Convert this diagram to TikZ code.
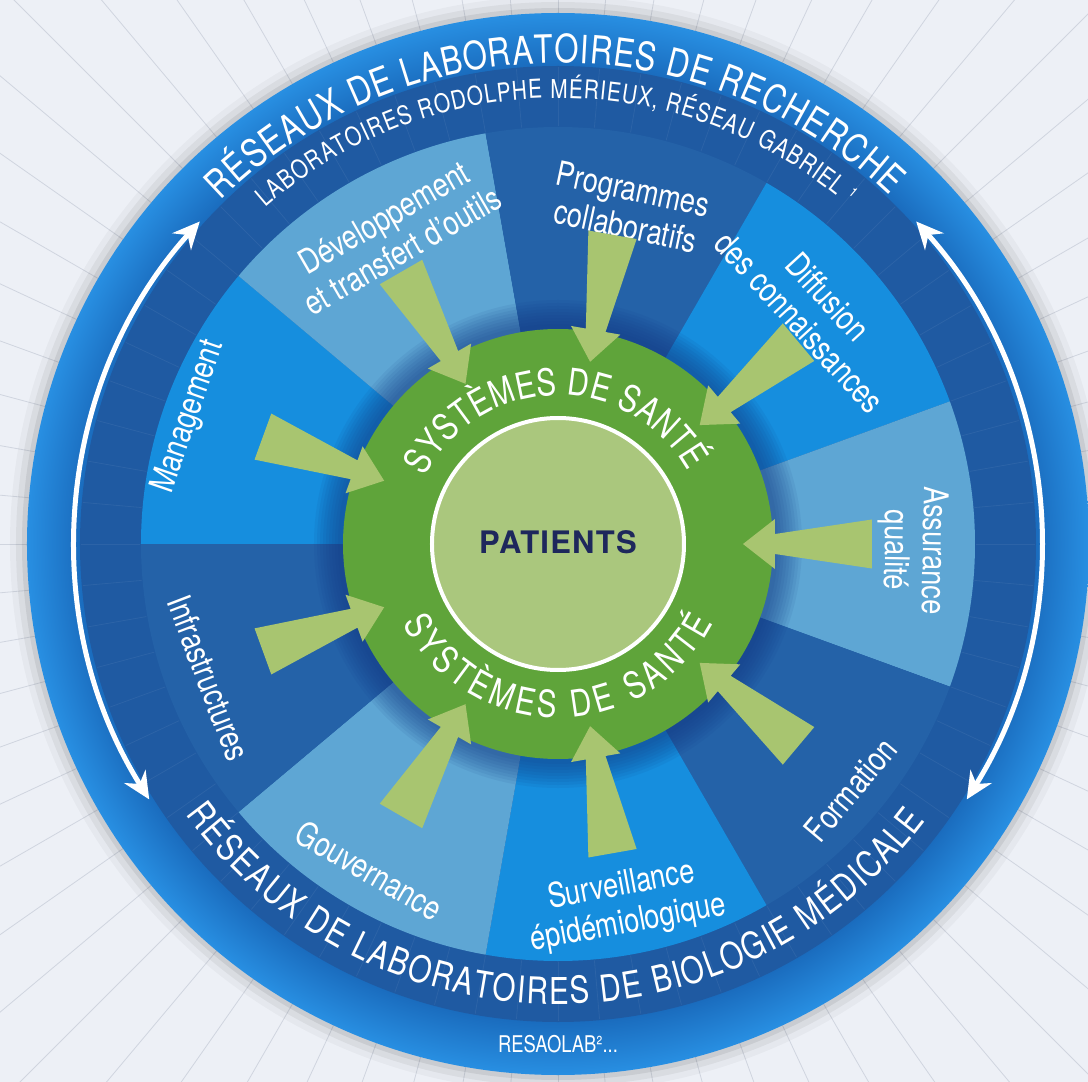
\documentclass[tikz,border=0pt]{standalone}
\usepackage{fontspec}
\setmainfont{TeX Gyre Heros}
\newfontfamily\condfont[FakeStretch=0.8]{TeX Gyre Heros}
\newfontfamily\patientfont[LetterSpace=4]{TeX Gyre Heros}
\usetikzlibrary{arrows.meta,decorations.text}
\definecolor{bgpaper}{RGB}{237,240,246}
\definecolor{rayline}{RGB}{208,213,223}
\definecolor{ringlight}{RGB}{40,143,226}
\definecolor{ringmid}{RGB}{26,108,190}
\definecolor{bandblue}{RGB}{31,90,162}
\definecolor{segbright}{RGB}{22,142,222}
\definecolor{segpale}{RGB}{94,166,212}
\definecolor{segdeep}{RGB}{36,98,168}
\definecolor{santegreen}{RGB}{95,164,58}
\definecolor{patientgreen}{RGB}{170,199,125}
\definecolor{wedgegreen}{RGB}{168,197,112}
\definecolor{patientnavy}{RGB}{30,40,92}
\definecolor{shadowblue}{RGB}{18,55,130}
\pgfdeclareradialshading{outerring}{\pgfpoint{0bp}{0bp}}{color(0bp)=(ringmid); color(22.5bp)=(ringmid); color(25bp)=(ringlight); color(50bp)=(ringlight)}
\begin{document}
\begin{tikzpicture}[x=1pt,y=1pt,
    seglabel/.style={text=white, align=center, inner sep=0pt, font=\condfont\fontsize{34}{38}\selectfont},
    arctext/.style={decorate, decoration={text along path, text color=white, text align=fit to path, text={#1}}},
    wedge/.style={fill=wedgegreen, rotate=#1},
    loop arrow/.style={white, line width=5pt, {Stealth[length=27pt,width=25pt]}-{Stealth[length=27pt,width=25pt]}}]
  \useasboundingbox[fill=bgpaper] (-558,-538) rectangle (530,544);
  \begin{scope}
    \clip (-558,-538) rectangle (530,544);
    \foreach \a in {0,5,...,355}
      \draw[rayline, line width=0.8pt] (\a:531) -- (\a:900);
  \end{scope}
  \foreach \r/\o in {548/0.03, 542/0.05, 536/0.07}
    \fill[black, opacity=\o] (0,0) circle (\r);

  \shade[shading=outerring] (0,0) circle (531);
  \fill[bandblue] (0,0) circle (478);
  \foreach \a in {0,5,...,355}
    \draw[white, opacity=0.06, line width=0.8pt] (\a:418) -- (\a:477);

  \foreach \s/\c in {180/segbright, 140/segpale, 100/segdeep, 60/segbright, 20/segpale,
                     -20/segdeep, -60/segbright, -100/segpale, -140/segdeep}
    \fill[\c] (0,0) -- (\s:417) arc[start angle=\s, end angle=\s-40, radius=417] -- cycle;

  \foreach \r in {244,241,...,218}
    \fill[shadowblue, opacity=0.08] (0,0) circle (\r);
  \fill[santegreen] (0,0) circle (215);
  \draw[white, line width=4pt, fill=patientgreen] (0,0) circle (126);
  \node[text=patientnavy, font=\patientfont\bfseries\fontsize{31}{31}\selectfont] (patients) at (0,2) {PATIENTS};

  \path[arctext={|\condfont\fontsize{37}{37}\selectfont|SYSTÈMES DE SANTÉ}]
    (153:149) arc[start angle=153, end angle=29, radius=149];
  \path[arctext={|\condfont\fontsize{37}{37}\selectfont|SYSTÈMES DE SANTÉ}]
    (207:174) arc[start angle=207, end angle=333, radius=174];

  \path[arctext={|\condfont\fontsize{39}{39}\selectfont|RÉSEAUX DE LABORATOIRES DE RECHERCHE}]
    (134.5:481) arc[start angle=134.5, end angle=46.5, radius=481];
  \path[arctext={|\condfont\fontsize{26}{26}\selectfont|LABORATOIRES RODOLPHE MÉRIEUX, RÉSEAU GABRIEL ¹}]
    (131:446) arc[start angle=131, end angle=49.5, radius=446];
  \path[arctext={|\condfont\fontsize{37}{37}\selectfont|RÉSEAUX DE LABORATOIRES DE BIOLOGIE MÉDICALE}]
    (216:460) arc[start angle=216, end angle=323, radius=460];
  \node[text=white, font=\condfont\fontsize{23}{23}\selectfont] (resaolab) at (0,-500) {RESAOLAB²...};

  \node[seglabel, rotate=71] (management) at (161:390) {Management};
  \node[seglabel, rotate=30] (developpement) at (118:351) {Développement\\et transfert d’outils};
  \node[seglabel, rotate=-12] (programmes) at (78:344) {Programmes\\collaboratifs};
  \node[seglabel, rotate=-47.5] (diffusion) at (42.5:347) {Diffusion\\des connaissances};
  \node[seglabel, rotate=-91] (assurance) at (-1:355) {Assurance\\qualité};
  \node[seglabel, rotate=50] (formation) at (-40:382) {Formation};
  \node[seglabel, rotate=10.5] (surveillance) at (-79.5:367) {Surveillance\\épidémiologique};
  \node[seglabel, rotate=-30] (gouvernance) at (-120:377) {Gouvernance};
  \node[seglabel, rotate=-69] (infrastructures) at (-159:374) {Infrastructures};

  \foreach \t in {160,120,...,-160}
    \fill[wedge=\t] (314,24.5) -- (217,10) -- (217,25) -- (185,0) -- (217,-25) -- (217,-10) -- (314,-24.5) -- cycle;

  \draw[loop arrow] (138:482) arc[start angle=138, end angle=212, radius=482];
  \draw[loop arrow] (42:482) arc[start angle=42, end angle=-32, radius=482];
\end{tikzpicture}
\end{document}
